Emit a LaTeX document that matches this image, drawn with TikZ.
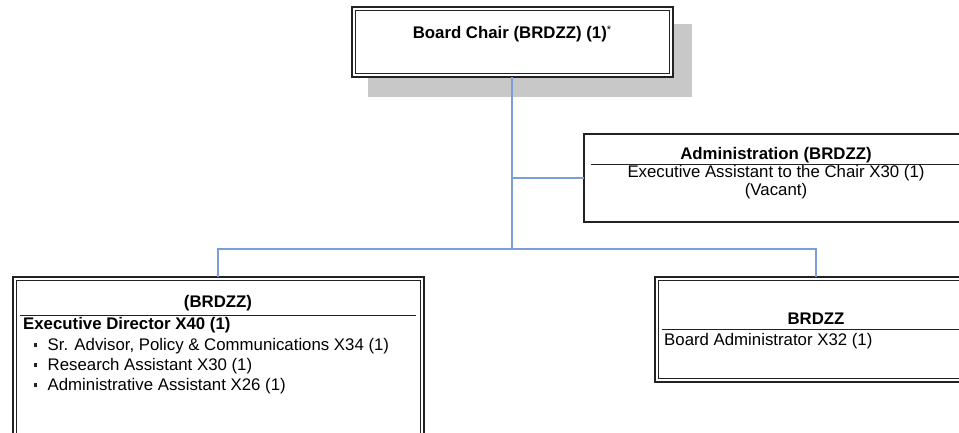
\documentclass[tikz,border=0pt]{standalone}
\usepackage{fontspec}
\setmainfont{Liberation Sans}
\definecolor{conn}{HTML}{7B9FD4}
\definecolor{shadowgray}{HTML}{C8C8C8}
\definecolor{frame}{HTML}{222222}
\begin{document}
\begin{tikzpicture}[x=1pt,y=-1pt,
  txt/.style={inner sep=0pt,anchor=base,font=\fontsize{16.8}{20}\selectfont},
  txtl/.style={inner sep=0pt,anchor=base west,font=\fontsize{16.8}{20}\selectfont},
  bld/.style={txt,font=\fontsize{16.8}{20}\selectfont\bfseries},
  bldl/.style={txtl,font=\fontsize{16.8}{20}\selectfont\bfseries},
  outerln/.style={draw=frame,line width=1.6pt},
  innerln/.style={draw=frame,line width=0.8pt},
  sepln/.style={draw=frame,line width=1pt},
  connln/.style={draw=conn,line width=1.3pt}]
\useasboundingbox (0,0) rectangle (959,432);
\clip (0,0) rectangle (959,432);
% Board chair
\fill[shadowgray] (368,24) rectangle (692,97);
\fill[white] (352,7) rectangle (673,77);
\draw[outerln] (352,7) rectangle (673,77);
\draw[innerln] (355.5,10.5) rectangle (669.5,73.5);
\node[bld] (chair) at (512,38) {Board Chair (BRDZZ) (1)\raisebox{5pt}{\fontsize{11}{11}\selectfont\normalfont *}};
\coordinate (chairb) at (512,77);
% Administration
\draw[outerln,line width=1.4pt] (584,134) rectangle (1000,222);
\node[bld] (admh) at (776,159) {Administration (BRDZZ)};
\draw[sepln] (591,164) -- (1000,164);
\node[txt] (adm1) at (776,177) {Executive Assistant to the Chair X30 (1)};
\node[txt] (adm2) at (776,195) {(Vacant)};
\coordinate (admL) at (584,178);
% Executive director box
\draw[outerln] (13,277) rectangle (424,460);
\draw[innerln] (16.5,280.5) rectangle (420.5,460);
\node[bld] (edh) at (218,307.5) {(BRDZZ)};
\draw[sepln] (20,315) -- (416,315);
\node[bldl] (ed) at (23,329.5) {Executive Director X40 (1)};
\node[txtl] (b1) at (47.5,350) {Sr. Advisor, Policy \& Communications X34 (1)};
\node[txtl] (b2) at (47.5,370) {Research Assistant X30 (1)};
\node[txtl] (b3) at (47.5,390) {Administrative Assistant X26 (1)};
\foreach \yy in {345,365,385}{\fill[frame] (34,\yy-1.7) rectangle (37.4,\yy+1.7);}
\coordinate (edT) at (218,277);
% Board administrator box
\draw[outerln] (655,277) rectangle (1000,382);
\draw[innerln] (658.5,280.5) rectangle (1000,378.5);
\node[bld] (bah) at (816,324.5) {BRDZZ};
\draw[sepln] (662,329) -- (1000,329);
\node[txtl] (ba) at (664,345) {Board Administrator X32 (1)};
\coordinate (baT) at (816,277);
% connectors
\coordinate (hub) at (512,249);
\coordinate (admJ) at (512,178);
\draw[connln] (chairb) -- (hub);
\draw[connln] (admJ) -- (admL);
\draw[connln] (edT) -- (218,249) -- (816,249) -- (baT);
\end{tikzpicture}
\end{document}
